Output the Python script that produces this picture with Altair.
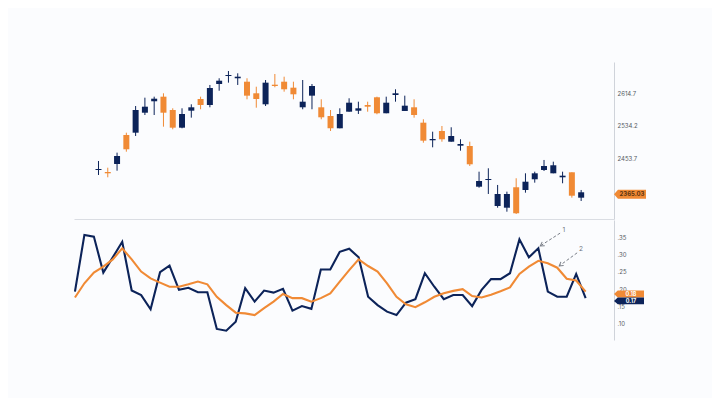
import altair as alt
import pandas as pd

# ---------------- data ----------------
opens = [2424.7, 2419.8, 2439.6, 2511.4, 2517.1, 2566.6, 2594.9, 2606.3, 2573.3, 2529.5,
         2571.6, 2600.6, 2585.7, 2637.7, 2657.5, 2651.9, 2643.4, 2614.7, 2587.4, 2636.0,
         2643.4, 2628.6, 2580.0, 2608.8, 2580.0, 2558.5, 2528.0, 2569.1, 2571.6, 2585.7,
         2604.8, 2565.2, 2610.5, 2570.9, 2580.0, 2541.9, 2498.3, 2521.3, 2494.8, 2484.9,
         2484.2, 2383.3, 2399.9, 2335.5, 2331.3, 2381.9, 2375.2, 2401.7, 2424.7, 2416.5,
         2406.6, 2419.0, 2356.1]
highs = [2447.0, 2430.4, 2467.6, 2517.1, 2583.2, 2603.8, 2606.3, 2614.7, 2577.5, 2577.5,
         2587.4, 2606.3, 2635.3, 2651.9, 2669.9, 2664.2, 2651.9, 2631.0, 2647.6, 2662.5,
         2655.8, 2643.4, 2647.6, 2637.7, 2599.8, 2573.3, 2577.5, 2602.3, 2593.9, 2593.9,
         2606.3, 2606.3, 2624.6, 2608.8, 2599.8, 2550.3, 2519.6, 2533.7, 2530.5, 2500.8,
         2494.8, 2420.5, 2428.9, 2387.6, 2371.0, 2404.2, 2416.5, 2420.5, 2449.5, 2445.3,
         2420.5, 2419.0, 2375.2]
lows = [2412.3, 2406.6, 2423.0, 2470.0, 2508.9, 2560.9, 2560.9, 2532.0, 2525.5, 2528.0,
        2554.3, 2575.1, 2580.0, 2621.1, 2641.0, 2635.3, 2599.8, 2579.0, 2583.2, 2629.6,
        2618.7, 2599.8, 2575.1, 2575.1, 2550.3, 2521.3, 2528.0, 2569.1, 2563.4, 2569.1,
        2562.7, 2565.2, 2593.9, 2570.9, 2554.3, 2492.3, 2480.9, 2494.8, 2494.8, 2472.5,
        2434.6, 2380.9, 2365.3, 2331.3, 2321.4, 2315.7, 2368.5, 2393.3, 2422.2, 2416.5,
        2391.8, 2356.1, 2347.9]
closes = [2427.2, 2416.5, 2459.4, 2476.0, 2573.3, 2581.5, 2601.3, 2566.6, 2529.5, 2563.4,
          2580.0, 2585.7, 2627.8, 2645.9, 2660.0, 2655.8, 2608.8, 2600.6, 2641.0, 2632.8,
          2624.6, 2612.2, 2593.9, 2632.8, 2555.2, 2528.0, 2563.4, 2591.4, 2577.5, 2581.5,
          2565.2, 2591.4, 2614.7, 2584.0, 2560.9, 2497.3, 2501.5, 2500.8, 2508.9, 2489.1,
          2438.8, 2397.5, 2402.4, 2365.3, 2365.3, 2317.5, 2395.7, 2416.5, 2434.6, 2436.4,
          2410.6, 2361.0, 2369.5]
candle_idx = list(range(2, 55))

navy_vals = [0.193, 0.357, 0.352, 0.248, 0.292, 0.337, 0.196, 0.183, 0.142, 0.249,
             0.268, 0.198, 0.204, 0.191, 0.191, 0.085, 0.080, 0.106, 0.203, 0.164,
             0.196, 0.190, 0.201, 0.138, 0.151, 0.143, 0.257, 0.257, 0.308, 0.317,
             0.292, 0.178, 0.154, 0.135, 0.125, 0.161, 0.171, 0.246, 0.207, 0.171,
             0.183, 0.183, 0.151, 0.198, 0.229, 0.229, 0.246, 0.344, 0.292, 0.318,
             0.193, 0.178, 0.178, 0.244, 0.174]
orange_vals = [0.176, 0.217, 0.248, 0.265, 0.286, 0.318, 0.286, 0.251, 0.231, 0.219,
               0.207, 0.207, 0.214, 0.222, 0.214, 0.178, 0.154, 0.132, 0.130, 0.125,
               0.145, 0.164, 0.186, 0.174, 0.174, 0.164, 0.174, 0.188, 0.222, 0.255,
               0.286, 0.267, 0.251, 0.217, 0.178, 0.156, 0.148, 0.162, 0.178, 0.188,
               0.195, 0.200, 0.180, 0.176, 0.184, 0.194, 0.205, 0.244, 0.265, 0.282,
               0.275, 0.262, 0.230, 0.225, 0.193]
line_idx = list(range(55))

price_ticks = [2453.7, 2534.2, 2614.7]
osc_ticks = [0.10, 0.15, 0.20, 0.25, 0.30, 0.35]

price_tag_value = 2364.5
price_tag_text = "2365.03"
osc_tag_values = [0.186, 0.166]
osc_tag_texts = ["0.18", "0.17"]
osc_tag_series = ["orange", "navy"]

ann_labels = ["1", "2"]
ann_label_x = [51.7, 53.5]
ann_label_y = [0.371, 0.316]
ann_start_x = [51.3, 53.1]
ann_start_y = [0.362, 0.305]
ann_end_x = [49.2, 51.2]
ann_end_y = [0.325, 0.267]
ann_angle = [327, 324]

# ---------------- style ----------------
NAVY = "#0c2359"
ORANGE = "#f08a35"
AXIS_LINE = "#cfd3da"
LABEL = "#555a63"

cdf = pd.DataFrame({"i": candle_idx, "open": opens, "high": highs,
                    "low": lows, "close": closes})
cdf["dir"] = ["up" if c >= o else "down" for o, c in zip(opens, closes)]

ldf = pd.DataFrame({"i": line_idx * 2,
                    "v": navy_vals + orange_vals,
                    "s": ["navy"] * len(navy_vals) + ["orange"] * len(orange_vals)})

xscale = alt.Scale(domain=[-0.1, 57], nice=False, zero=False)
pscale = alt.Scale(domain=[2303.3, 2692.2], nice=False, zero=False)
oscale = alt.Scale(domain=[0.053, 0.40], nice=False, zero=False)
dir_color = alt.Color("dir:N", scale=alt.Scale(domain=["up", "down"], range=[NAVY, ORANGE]), legend=None)
ser_color = alt.Color("s:N", scale=alt.Scale(domain=["navy", "orange"], range=[NAVY, ORANGE]), legend=None)

x_upper_axis = alt.Axis(labels=False, ticks=False, grid=False, title=None,
                        domain=True, domainColor="#dadde3", domainWidth=1)
p_axis = alt.Axis(orient="right", values=price_ticks, format=".1f", ticks=False, grid=False,
                  title=None, domainColor=AXIS_LINE, labelFontSize=6, labelColor=LABEL,
                  labelPadding=3, labelOverlap=False)
o_axis = alt.Axis(orient="right", values=osc_ticks, ticks=False, grid=False, title=None,
                  domainColor=AXIS_LINE, labelFontSize=6, labelColor=LABEL, labelPadding=3,
                  labelOverlap=False, labelSeparation=0, tickCount=len(osc_ticks),
                  labelExpr="substring(format(datum.value, '.2f'), 1)")

W = 540
H1 = 157
H2 = 120

base = alt.Chart(cdf)
wicks = base.mark_rule(strokeWidth=1).encode(
    x=alt.X("i:Q", scale=xscale, axis=x_upper_axis),
    y=alt.Y("low:Q", scale=pscale, axis=p_axis),
    y2="high:Q",
    color=dir_color,
)
bodies = base.mark_bar(size=6).encode(
    x=alt.X("i:Q", scale=xscale),
    y=alt.Y("open:Q", scale=pscale),
    y2="close:Q",
    color=dir_color,
)

tag_path = "M -1 0 L -0.75 -0.28 L 1 -0.28 L 1 0.28 L -0.75 0.28 Z"
ptag_df = pd.DataFrame({"v": [price_tag_value], "t": [price_tag_text]})
ptag = alt.Chart(ptag_df).mark_point(shape=tag_path, filled=True, size=1024, opacity=1,
                                     color=ORANGE, strokeWidth=0).encode(
    x=alt.value(W + 16), y=alt.Y("v:Q", scale=pscale))
ptext = alt.Chart(ptag_df).mark_text(fontSize=6, color="#5e3410", fontWeight="bold").encode(
    x=alt.value(W + 18), y=alt.Y("v:Q", scale=pscale), text="t:N")

upper = alt.layer(wicks, bodies, ptag, ptext).properties(width=W, height=H1)

lines = alt.Chart(ldf).mark_line(strokeWidth=2.1, strokeJoin="miter").encode(
    x=alt.X("i:Q", scale=xscale, axis=None),
    y=alt.Y("v:Q", scale=oscale, axis=o_axis),
    color=ser_color,
    detail="s:N",
)

otag_df = pd.DataFrame({"v": osc_tag_values, "t": osc_tag_texts, "s": osc_tag_series})
otag_path = "M -1 0 L -0.75 -0.23 L 1 -0.23 L 1 0.23 L -0.75 0.23 Z"
otags = alt.Chart(otag_df).mark_point(shape=otag_path, filled=True, size=900, opacity=1,
                                      strokeWidth=0).encode(
    x=alt.value(W + 15), y=alt.Y("v:Q", scale=oscale), color=ser_color)
otexts = alt.Chart(otag_df).mark_text(fontSize=5.5, color="white", fontWeight="bold").encode(
    x=alt.value(W + 17), y=alt.Y("v:Q", scale=oscale), text="t:N")

adf = pd.DataFrame({"lab": ann_labels, "lx": ann_label_x, "ly": ann_label_y,
                    "sx": ann_start_x, "sy": ann_start_y, "ex": ann_end_x,
                    "ey": ann_end_y, "ang": ann_angle})
ann_lines = alt.Chart(adf).mark_rule(strokeDash=[3, 2], strokeWidth=1, color="#7a7f88").encode(
    x=alt.X("sx:Q", scale=xscale), x2="ex:Q",
    y=alt.Y("sy:Q", scale=oscale), y2="ey:Q")
ann_heads = alt.Chart(adf).mark_point(shape="M 1 -0.6 L 0 0 L 1 0.6", filled=False,
                                      size=60, color="#7a7f88", strokeWidth=1, opacity=1).encode(
    x=alt.X("ex:Q", scale=xscale), y=alt.Y("ey:Q", scale=oscale),
    angle=alt.Angle("ang:Q", scale=None))
ann_text = alt.Chart(adf).mark_text(fontSize=6.5, color="#6b707a").encode(
    x=alt.X("lx:Q", scale=xscale), y=alt.Y("ly:Q", scale=oscale), text="lab:N")

lower = alt.layer(lines, ann_lines, ann_heads, ann_text, otags, otexts).properties(width=W, height=H2)

chart = alt.vconcat(upper, lower, spacing=1).properties(
    padding={"left": 62, "top": 54, "right": 66, "bottom": 58},
    background="#fbfcfe",
).configure_view(stroke=None).configure_axis(labelFont="Inter").configure_text(font="Inter")

chart.save("out.html", embed_options={"renderer": "svg", "actions": False})
